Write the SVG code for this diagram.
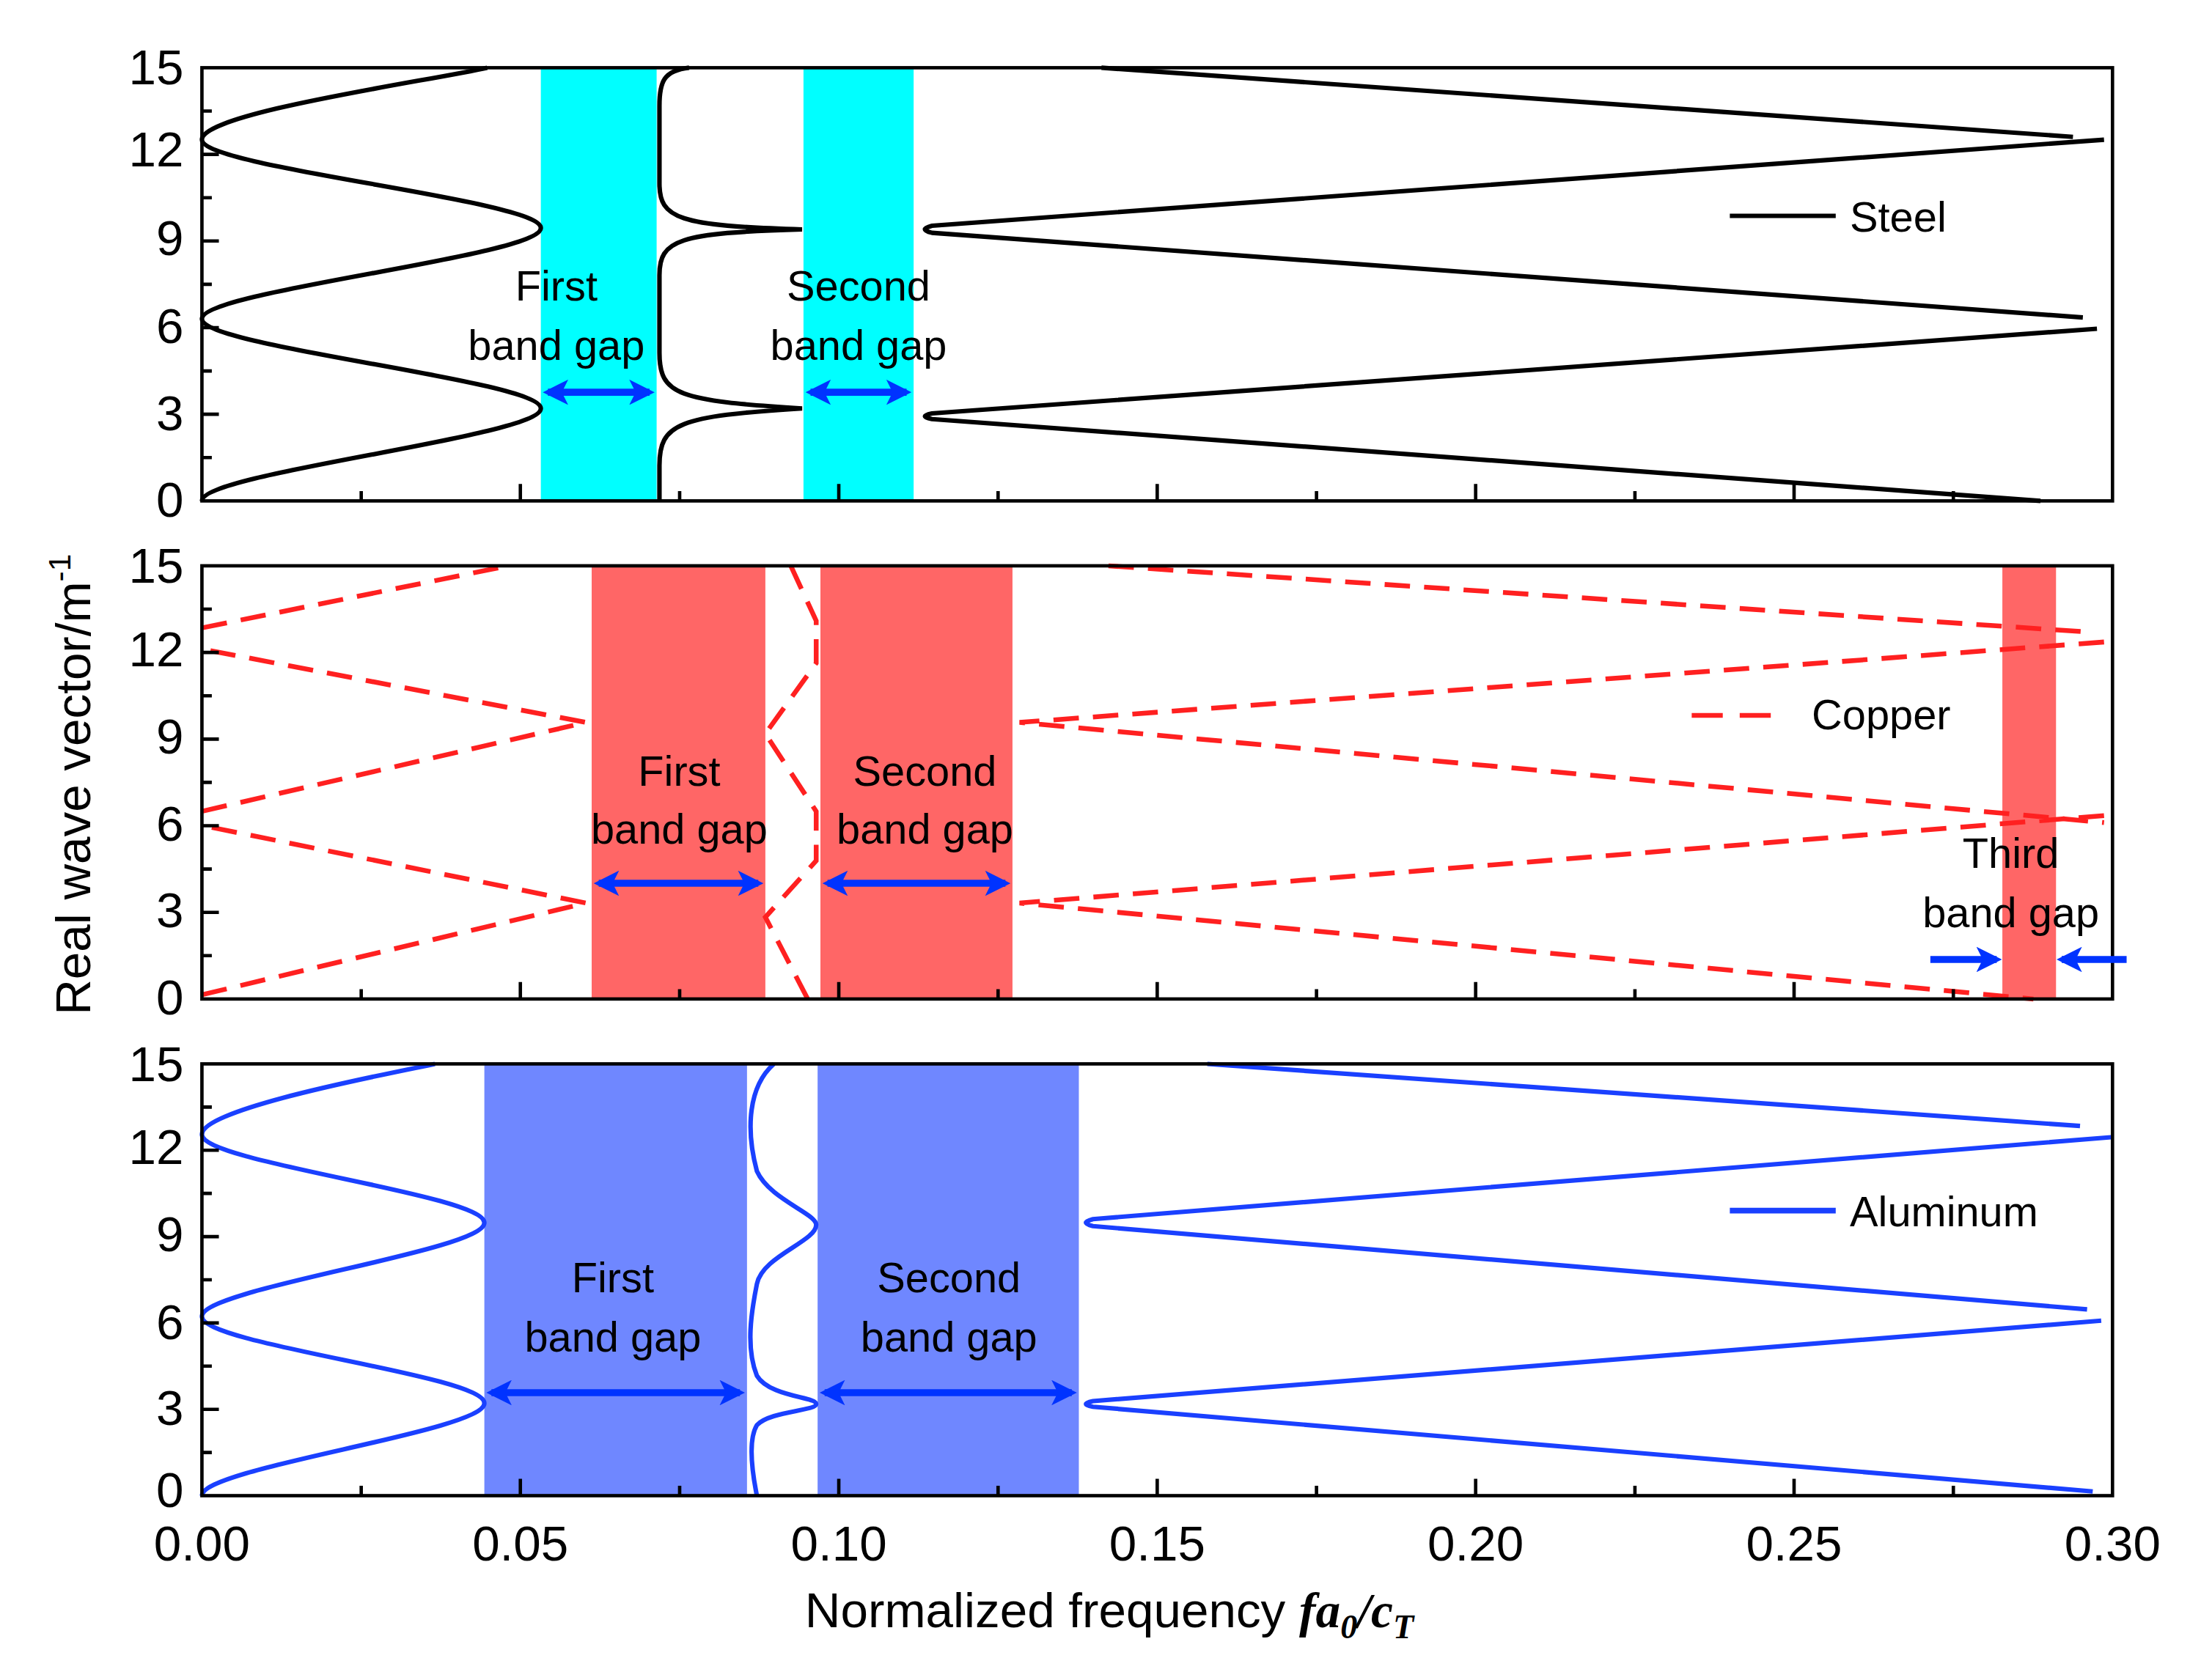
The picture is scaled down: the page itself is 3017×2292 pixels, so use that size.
<svg xmlns="http://www.w3.org/2000/svg" width="3017" height="2292" viewBox="0 0 3017 2292">
<defs>
<marker id="ah" viewBox="0 0 10 10" refX="8" refY="5" markerWidth="3.6" markerHeight="3.6" orient="auto-start-reverse"><path d="M0,0 L10,5 L0,10 L2.5,5 z" fill="#0033ff"/></marker>
<style>
text{font-family:"Liberation Sans",Arial,sans-serif;fill:#000}
.tk{font-size:35px}
.lb{font-size:30px;text-anchor:middle}
.lg{font-size:30px}
.ax{fill:none;stroke:#000;stroke-width:2.4}
.st{fill:none;stroke:#000;stroke-width:3.2}
.cu{fill:none;stroke:#ff2020;stroke-width:3.4;stroke-dasharray:18,10}
.al{fill:none;stroke:#1a40ff;stroke-width:3.2}
.ar{stroke:#0033ff;stroke-width:5;marker-start:url(#ah);marker-end:url(#ah)}
.ar1{stroke:#0033ff;stroke-width:5;marker-end:url(#ah)}
</style>
</defs>
<rect width="3017" height="2292" fill="#fff"/>
<g transform="scale(1.926,1.925)">
<g id="bands">
<rect x="383" y="48" width="82" height="307" fill="#00ffff"/>
<rect x="569" y="48" width="78" height="307" fill="#00ffff"/>
<rect x="419" y="401" width="123" height="307" fill="#ff6666"/>
<rect x="581" y="401" width="136" height="307" fill="#ff6666"/>
<rect x="1418" y="401" width="38" height="307" fill="#ff6666"/>
<rect x="343" y="754" width="186" height="306" fill="#6f87ff"/>
<rect x="579" y="754" width="185" height="306" fill="#6f87ff"/>
</g>
<g id="curves">
<path class="st" d="M143,355 C143,335 383,309.5 383,289.5 C383,269.5 143,246 143,226 C143,206 383,181.6 383,161.6 C383,141.6 143,119 143,99 C143,80 300,58 345,48"/>
<path class="st" d="M467,355 L467,330 C467,300 480,295 568,289.5 C480,284 467,280 467,250 L467,195 C467,170 480,165 568,162.6 C480,160 467,155 467,130 L467,75 C467,58 470,50 488,48"/>
<path class="st" d="M780,48 L1468,97 M1490,99 L660,160 Q650,162.6 660,165 L1475,225 M1485,233 L660,293 Q650,295 660,297 L1445,355"/>
<path class="cu" d="M143,705 L415,640 L143,585 M143,575 L415,512 L143,460 M143,445 L360,401"/>
<path class="cu" d="M560,401 L578,440 L578,470 L542,520 L578,575 L578,610 L542,650 L572,708"/>
<path class="cu" d="M785,401 L1480,448 M1490,455 L722,512 L1490,583 M1490,578 L722,640 L1440,708"/>
<path class="al" d="M143,1060 C143,1040 343,1014.5 343,994.5 C343,974.5 143,953 143,933 C143,913 343,886.6 343,866.6 C343,846.6 143,824 143,804 C143,786 270,762 308,754"/>
<path class="al" d="M536,1060 C532,1040 530,1020 536,1010 C545,1000 578,1000 578,995 C578,990 545,990 536,975 C528,955 532,930 536,910 C540,890 578,880 578,868 C578,860 545,850 536,830 C528,800 530,770 548,754"/>
<path class="al" d="M855,754 L1473,798 M1495,806 L774,864 Q764,866.6 774,869 L1478,928 M1488,936 L774,993 Q764,995 774,997 L1482,1057"/>
</g>
<g id="frames">
<rect class="ax" x="143" y="48" width="1353" height="307"/>
<rect class="ax" x="143" y="401" width="1353" height="307"/>
<rect class="ax" x="143" y="754" width="1353" height="306"/>
<path class="ax" d="M368.5,355v-12M594,355v-12M819.5,355v-12M1045,355v-12M1270.5,355v-12M255.8,355v-7M481.3,355v-7M706.8,355v-7M932.3,355v-7M1157.8,355v-7M1383.3,355v-7
M368.5,708v-12M594,708v-12M819.5,708v-12M1045,708v-12M1270.5,708v-12M255.8,708v-7M481.3,708v-7M706.8,708v-7M932.3,708v-7M1157.8,708v-7M1383.3,708v-7
M368.5,1060v-12M594,1060v-12M819.5,1060v-12M1045,1060v-12M1270.5,1060v-12M255.8,1060v-7M481.3,1060v-7M706.8,1060v-7M932.3,1060v-7M1157.8,1060v-7M1383.3,1060v-7
M143,293.6h12M143,232.2h12M143,170.8h12M143,109.4h12M143,324.3h7M143,262.9h7M143,201.5h7M143,140.1h7M143,78.7h7
M143,646.6h12M143,585.2h12M143,523.8h12M143,462.4h12M143,677.3h7M143,615.9h7M143,554.5h7M143,493.1h7M143,431.7h7
M143,998.8h12M143,937.6h12M143,876.4h12M143,815.2h12M143,1029.4h7M143,968.2h7M143,907h7M143,845.8h7M143,784.6h7"/>
</g>
<g id="ticklabels" class="tk" text-anchor="end">
<text x="130" y="60">15</text><text x="130" y="118">12</text><text x="130" y="181">9</text><text x="130" y="243">6</text><text x="130" y="305">3</text><text x="130" y="366">0</text>
<text x="130" y="413">15</text><text x="130" y="472">12</text><text x="130" y="534">9</text><text x="130" y="596">6</text><text x="130" y="657">3</text><text x="130" y="719">0</text>
<text x="130" y="766">15</text><text x="130" y="825">12</text><text x="130" y="887">9</text><text x="130" y="949">6</text><text x="130" y="1010">3</text><text x="130" y="1068">0</text>
</g>
<g id="xlabels" class="tk" text-anchor="middle">
<text x="143" y="1106">0.00</text><text x="368.5" y="1106">0.05</text><text x="594" y="1106">0.10</text><text x="819.5" y="1106">0.15</text><text x="1045" y="1106">0.20</text><text x="1270.5" y="1106">0.25</text><text x="1496" y="1106">0.30</text>
</g>
<text id="xtitle" x="570" y="1153" style="font-size:35px">Normalized frequency <tspan style="font-family:'Liberation Serif',serif;font-style:italic;font-weight:bold">fa</tspan><tspan dy="8" style="font-family:'Liberation Serif',serif;font-style:italic;font-weight:bold;font-size:24px">0</tspan><tspan dy="-8" style="font-family:'Liberation Serif',serif;font-style:italic;font-weight:bold">/c</tspan><tspan dy="8" style="font-family:'Liberation Serif',serif;font-style:italic;font-weight:bold;font-size:24px">T</tspan></text>
<text id="ytitle" transform="translate(64,556) rotate(-90)" text-anchor="middle" style="font-size:35px">Real wave vector/m<tspan dy="-14" style="font-size:22px">-1</tspan></text>
<g id="legends">
<path d="M1225,153 H1300" stroke="#000" stroke-width="3.2"/><text class="lg" x="1310" y="164">Steel</text>
<path d="M1198,507 H1258" stroke="#ff2020" stroke-width="3.4" stroke-dasharray="22,12"/><text class="lg" x="1283" y="517">Copper</text>
<path d="M1225,858 H1300" stroke="#1a40ff" stroke-width="4"/><text class="lg" x="1310" y="869">Aluminum</text>
</g>
<g id="labels" class="lb">
<text x="394" y="213">First</text><text x="394" y="255">band gap</text>
<text x="608" y="213">Second</text><text x="608" y="255">band gap</text>
<text x="481" y="557">First</text><text x="481" y="598">band gap</text>
<text x="655" y="557">Second</text><text x="655" y="598">band gap</text>
<text x="1424" y="615">Third</text><text x="1424" y="657">band gap</text>
<text x="434" y="916">First</text><text x="434" y="958">band gap</text>
<text x="672" y="916">Second</text><text x="672" y="958">band gap</text>
</g>
<g id="arrows">
<line class="ar" x1="388" y1="278" x2="460" y2="278"/>
<line class="ar" x1="574" y1="278" x2="642" y2="278"/>
<line class="ar" x1="424" y1="626" x2="537" y2="626"/>
<line class="ar" x1="586" y1="626" x2="712" y2="626"/>
<line class="ar1" x1="1367" y1="680" x2="1414" y2="680"/>
<line class="ar1" x1="1506" y1="680" x2="1460" y2="680"/>
<line class="ar" x1="348" y1="987" x2="524" y2="987"/>
<line class="ar" x1="584" y1="987" x2="759" y2="987"/>
</g>
</g>
</svg>
